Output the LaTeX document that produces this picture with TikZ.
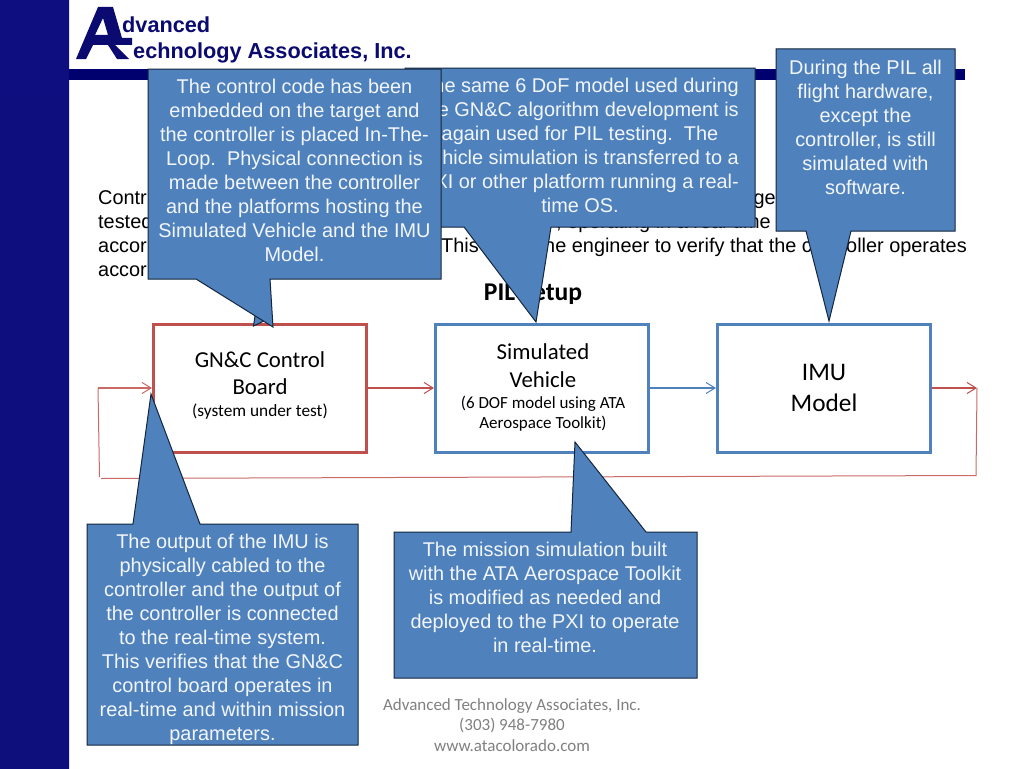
\documentclass[tikz,border=0pt]{standalone}
\usepackage{fontspec}
\setmainfont{Liberation Sans}
\newfontfamily\carl{Carlito}
\usetikzlibrary{arrows.meta}
\definecolor{navybar}{HTML}{00006E}
\definecolor{sidetop}{HTML}{0E0E80}
\definecolor{sidemid}{HTML}{000036}
\definecolor{sidebot}{HTML}{0E0E7C}
\definecolor{logoblue}{HTML}{0A0A70}
\definecolor{callfill}{HTML}{4F81BD}
\definecolor{callline}{HTML}{14263C}
\definecolor{redline}{HTML}{C0504D}
\definecolor{blueline}{HTML}{4F81BD}
\definecolor{calltext}{HTML}{F2F6FB}
\tikzset{
  callshape/.style={fill=callfill,draw=callline,line width=1pt,line join=miter},
  calltxt/.style={text=calltext,align=center,inner sep=0pt,font=\fontsize{19.9}{24}\selectfont},
  bodytxt/.style={text=black,inner sep=0pt,font=\fontsize{19.9}{24}\selectfont},
  boxnode/.style={draw=#1,line width=3pt,fill=white,minimum width=213pt,minimum height=128pt,inner sep=0pt},
  boxtxt/.style={align=center,inner sep=0pt,text=black,font=\carl\fontsize{#1}{27.5}\selectfont},
  subtxt/.style={align=center,inner sep=0pt,text=black,font=\carl\fontsize{#1}{20}\selectfont},
  flow/.style={draw=#1,line width=1.1pt,-{Straight Barb[length=9pt,width=11pt,line width=1pt]}},
  loopline/.style={draw=redline!85!white,line width=1pt},
  logotxt/.style={anchor=base west,inner sep=0pt,text=logoblue,font=\bfseries\fontsize{21.7}{24}\selectfont}
}
\begin{document}
\begin{tikzpicture}[x=1pt,y=-1pt]
\useasboundingbox (0,0) rectangle (1024,768);
\fill[white] (0,0) rectangle (1024,768);
\shade[top color=sidetop,middle color=sidemid,bottom color=sidebot] (0,0) rectangle (69,768);
\fill[navybar] (69,69) rectangle (965,80);
% logo
\fill[logoblue,even odd rule] (76,59) -- (98,7) -- (113,7) -- (122,38) -- (132,38) -- (132,45) -- (115,45) -- (129,59) -- (117,59) -- (108,45) -- (93,45) -- (86,59) -- cycle
  (103,18) -- (95,35) -- (108,35) -- cycle;
\node[logotxt] (logoa) at (122,33) {dvanced};
\node[logotxt] (logob) at (133,59) {echnology Associates, Inc.};
% body text (partly covered)
\node[bodytxt,anchor=base west] (l1a) at (98,204.7) {Contr};
\node[bodytxt,anchor=base west] (l2a) at (98,228.7) {tested};
\node[bodytxt,anchor=base west] (l3a) at (98,252.7) {accor};
\node[bodytxt,anchor=base west] (l4a) at (98,276.7) {accor};
\node[bodytxt,anchor=base east] (l1b) at (776,204.7) {ge};
\node[bodytxt,anchor=base east] (l2b) at (771,228.7) {, operating in a real-time};
\node[bodytxt,anchor=base west] (l3b) at (441,252.7) {This};
\node[bodytxt,anchor=base east] (l3c) at (967,252.7) {the engineer to verify that the controller operates};
\node[anchor=center,inner sep=0pt,text=black,font=\carl\bfseries\fontsize{25.6}{28}\selectfont] (pil) at (533,294) {PIL Setup};
% boxes
\node[boxnode=redline] (gnc) at (260,388) {};
\node[boxnode=blueline] (sim) at (542,388) {};
\node[boxnode=blueline] (imu) at (824,388) {};
\node[boxtxt=22.8] (gnct) at (260,373) {GN\&C Control\\Board};
\node[subtxt=17.3] (gncs) at (260,412) {(system under test)};
\node[boxtxt=22.8] (simt) at (543,365.5) {Simulated\\Vehicle};
\node[subtxt=17] (sims) at (543,414) {(6 DOF model using ATA\\Aerospace Toolkit)};
\node[align=center,inner sep=0pt,text=black,font=\carl\fontsize{25.3}{31}\selectfont] (imut) at (824,388) {IMU\\Model};
% connectors
\coordinate (loopA) at (977,388);
\coordinate (loopB) at (976,475.5);
\coordinate (loopC) at (101,478.5);
\coordinate (loopD) at (98,388);
\coordinate (loopE) at (99.5,477);
\draw[flow=redline] (gnc.east) -- (sim.west);
\draw[flow=blueline] (sim.east) -- (imu.west);
\draw[flow=redline] (imu.east) -- (loopA);
\draw[loopline] (loopA) -- (loopB) -- (loopC);
\draw[loopline] (loopE) -- (loopD);
\draw[flow=redline!85!white] (loopD) -- (gnc.west);
% callouts
\path[callshape] (405,68) -- (755,68) -- (755,227) -- (551,227) -- (536,322) -- (464,227) -- (405,227) -- cycle;
\node[calltxt] (calloutB) at (580,145) {The same 6 DoF model used during\\the GN\&C algorithm development is\\again used for PIL testing.\ \ The\\vehicle simulation is transferred to a\\PXI or other platform running a real-\\time OS.};
\path[callshape] (255.5,313) -- (253.5,326) -- (266,320) -- cycle;
\path[callshape] (148,69) -- (441,69) -- (441,279) -- (270,279) -- (273,327) -- (196,279) -- (148,279) -- cycle;
\node[calltxt] (calloutA) at (294.5,170) {The control code has been\\embedded on the target and\\the controller is placed In-The-\\Loop.\ \ Physical connection is\\made between the controller\\and the platforms hosting the\\Simulated Vehicle and the IMU\\Model.};
\path[callshape] (776,49) -- (955,49) -- (955,231) -- (851,231) -- (829,321) -- (806,231) -- (776,231) -- cycle;
\node[calltxt] (calloutC) at (865.5,127) {During the PIL all\\flight hardware,\\except the\\controller, is still\\simulated with\\software.};
\path[callshape] (87,524) -- (133,524) -- (151,394) -- (200,524) -- (358,524) -- (358,745) -- (87,745) -- cycle;
\node[calltxt] (calloutD) at (222.5,639) {The output of the IMU is\\physically cabled to the\\controller and the output of\\the controller is connected\\to the real-time system.\\This verifies that the GN\&C\\control board operates in\\real-time and within mission\\parameters.};
\path[callshape] (394,532) -- (571,532) -- (575,442) -- (646,532) -- (697,532) -- (697,678) -- (394,678) -- cycle;
\node[calltxt] (calloutE) at (545,597) {The mission simulation built\\with the ATA Aerospace Toolkit\\is modified as needed and\\deployed to the PXI to operate\\in real-time.};
% footer
\node[align=center,inner sep=0pt,text=black!50,font=\carl\fontsize{17}{20.5}\selectfont] (foot) at (512,725) {Advanced Technology Associates, Inc.\\(303) 948-7980\\www.atacolorado.com};
\end{tikzpicture}
\end{document}
